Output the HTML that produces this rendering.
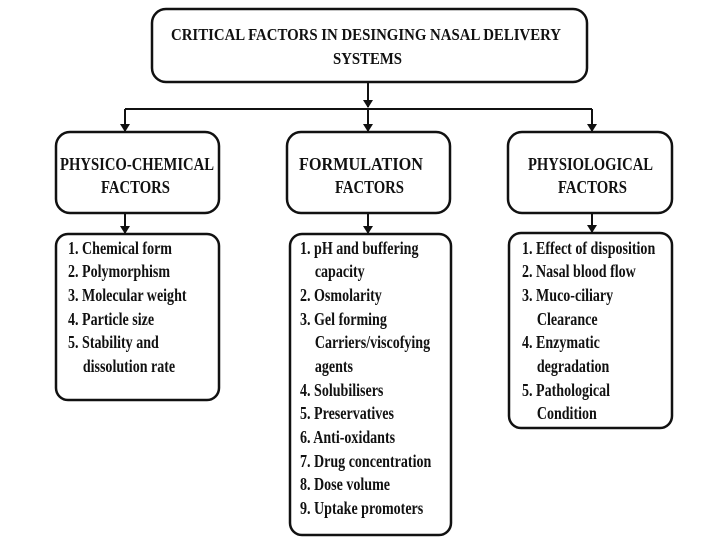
<!DOCTYPE html>
<html><head><meta charset="utf-8"><style>
html,body{margin:0;padding:0;background:#fff;}
svg{display:block;}
text{font-family:"Liberation Serif",serif;font-weight:bold;fill:#111;}
</style></head><body>
<svg width="720" height="540" viewBox="0 0 720 540" xmlns="http://www.w3.org/2000/svg">
<defs><marker id="a" markerWidth="8" markerHeight="10" refX="7" refY="5" orient="auto" markerUnits="userSpaceOnUse"><path d="M0,0 L8,5 L0,10 z" fill="#111"/></marker></defs>
<g fill="none" stroke="#111" stroke-width="2.5">
<rect x="152" y="9" width="435" height="73" rx="14"/>
<rect x="56" y="132" width="163" height="81" rx="14"/>
<rect x="287" y="132" width="163" height="81" rx="14"/>
<rect x="508" y="132" width="164" height="81" rx="14"/>
<rect x="56" y="234" width="163" height="166" rx="12"/>
<rect x="290" y="234" width="161" height="301" rx="12"/>
<rect x="509" y="233" width="163" height="195" rx="12"/>
</g>
<g stroke="#111" stroke-width="2" fill="none">
<line x1="368" y1="82" x2="368" y2="107" marker-end="url(#a)"/>
<line x1="125" y1="109" x2="592" y2="109"/>
<line x1="125" y1="109" x2="125" y2="131" marker-end="url(#a)"/>
<line x1="368" y1="109" x2="368" y2="131" marker-end="url(#a)"/>
<line x1="592" y1="109" x2="592" y2="131" marker-end="url(#a)"/>
<line x1="125" y1="213" x2="125" y2="233" marker-end="url(#a)"/>
<line x1="368" y1="213" x2="368" y2="233" marker-end="url(#a)"/>
<line x1="592" y1="213" x2="592" y2="232" marker-end="url(#a)"/>
</g>
<g font-size="17">
<text x="171" y="40" textLength="390" lengthAdjust="spacingAndGlyphs">CRITICAL FACTORS IN DESINGING NASAL DELIVERY</text>
<text x="333" y="64" textLength="69" lengthAdjust="spacingAndGlyphs">SYSTEMS</text>
</g>
<g font-size="18">
<text x="60" y="170" textLength="154" lengthAdjust="spacingAndGlyphs">PHYSICO-CHEMICAL</text>
<text x="101" y="193" textLength="69" lengthAdjust="spacingAndGlyphs">FACTORS</text>
<text x="299" y="170" textLength="124" lengthAdjust="spacingAndGlyphs">FORMULATION</text>
<text x="335" y="193" textLength="69" lengthAdjust="spacingAndGlyphs">FACTORS</text>
<text x="528" y="170" textLength="125" lengthAdjust="spacingAndGlyphs">PHYSIOLOGICAL</text>
<text x="558" y="193" textLength="69" lengthAdjust="spacingAndGlyphs">FACTORS</text>
</g>
<g font-size="18" transform="translate(68,0) scale(0.78,1)">
<text x="0" y="254">1. Chemical form</text>
<text x="0" y="277">2. Polymorphism</text>
<text x="0" y="301">3. Molecular weight</text>
<text x="0" y="325">4. Particle size</text>
<text x="0" y="348">5. Stability and</text>
<text x="19" y="372">dissolution rate</text>
</g>
<g font-size="18" transform="translate(300,0) scale(0.78,1)">
<text x="0" y="254">1. pH and buffering</text>
<text x="19" y="277">capacity</text>
<text x="0" y="301">2. Osmolarity</text>
<text x="0" y="325">3. Gel forming</text>
<text x="19" y="348">Carriers/viscofying</text>
<text x="19" y="372">agents</text>
<text x="0" y="396">4. Solubilisers</text>
<text x="0" y="419">5. Preservatives</text>
<text x="0" y="443">6. Anti-oxidants</text>
<text x="0" y="467">7. Drug concentration</text>
<text x="0" y="490">8. Dose volume</text>
<text x="0" y="514">9. Uptake promoters</text>
</g>
<g font-size="18" transform="translate(522,0) scale(0.78,1)">
<text x="0" y="254">1. Effect of disposition</text>
<text x="0" y="277">2. Nasal  blood flow</text>
<text x="0" y="301">3. Muco-ciliary</text>
<text x="19" y="325">Clearance</text>
<text x="0" y="348">4. Enzymatic</text>
<text x="19" y="372">degradation</text>
<text x="0" y="396">5. Pathological</text>
<text x="19" y="419">Condition</text>
</g>
</svg>
</body></html>
